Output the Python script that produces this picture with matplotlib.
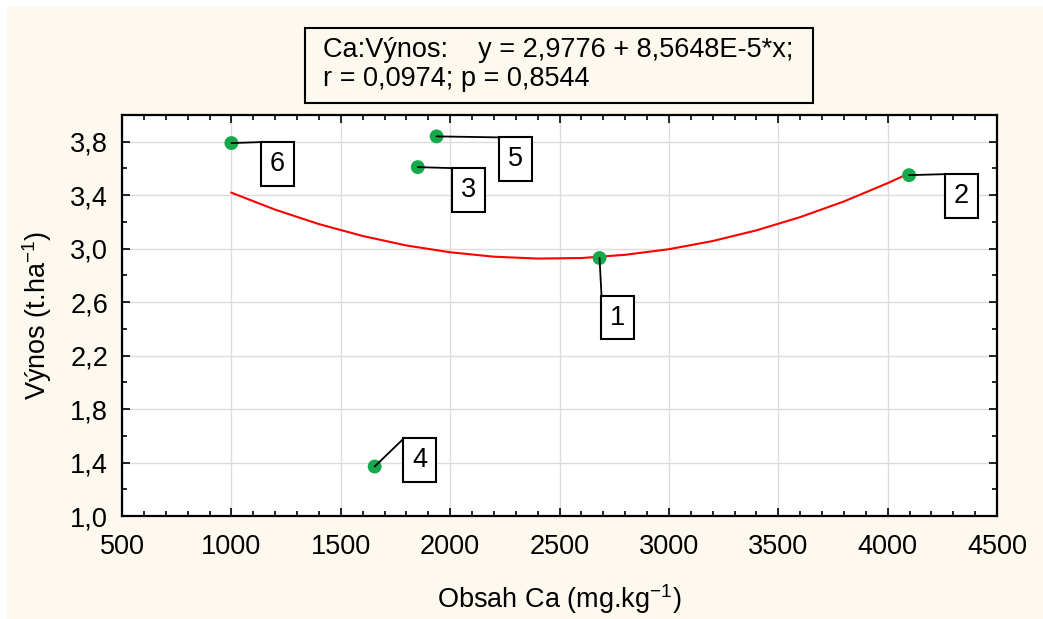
import matplotlib
matplotlib.use("Agg")
import matplotlib.pyplot as plt
from matplotlib.ticker import MultipleLocator, FuncFormatter
from matplotlib.patches import Rectangle

plt.rcParams['font.family'] = ['Liberation Sans', 'DejaVu Sans']
plt.rcParams['mathtext.fontset'] = 'custom'
plt.rcParams['mathtext.rm'] = 'Liberation Sans'
plt.rcParams['mathtext.it'] = 'Liberation Sans'

# data points
labels = ["1", "2", "3", "4", "5", "6"]
ca = [2683, 4098, 1852, 1655, 1938, 1000]
yield_t = [2.93, 3.55, 3.61, 1.37, 3.84, 3.79]

# fitted curve
curve_x = [1000, 1200, 1400, 1600, 1800, 2000, 2200, 2400, 2600, 2800, 3000, 3200, 3400, 3600, 3800, 4000, 4100]
curve_y = [3.419, 3.292, 3.184, 3.095, 3.024, 2.973, 2.940, 2.926, 2.930, 2.954, 2.996, 3.057, 3.137, 3.236, 3.353, 3.490, 3.565]

x_ticks = [500, 1000, 1500, 2000, 2500, 3000, 3500, 4000, 4500]
y_ticks = [1.0, 1.4, 1.8, 2.2, 2.6, 3.0, 3.4, 3.8]

# label box top-left corner relative to its point (pixels, right / down)
label_offsets = {"1": (2, 38), "2": (36, -1), "3": (35, 1), "4": (29, -28), "5": (63, 1), "6": (30, -1)}

W, H = 1043, 619
PT = 0.72  # points per pixel at dpi 100
FS = 19.5
fig = plt.figure(figsize=(W / 100, H / 100), dpi=100, facecolor='white')
cream = '#FDF9EF'
fig.patches.append(Rectangle((7 / W, 0), 1, (H - 7) / H, transform=fig.transFigure,
                             facecolor=cream, edgecolor='none', zorder=-10))

ax = fig.add_axes([122 / W, (H - 516) / H, (997 - 122) / W, (516 - 115) / H])
ax.set_facecolor('white')
ax.set_xlim(500, 4500)
ax.set_ylim(1.0, 4.0)
ax.set_xticks(x_ticks)
ax.set_yticks(y_ticks)
ax.xaxis.set_minor_locator(MultipleLocator(100))
ax.yaxis.set_minor_locator(MultipleLocator(0.2))
ax.yaxis.set_major_formatter(FuncFormatter(lambda v, p: f"{v:.1f}".replace('.', ',')))
ax.grid(True, which='major', color='#DCDCDC', linewidth=1.0)
ax.set_axisbelow(True)
ax.tick_params(which='both', direction='in', top=True, right=True, labelsize=FS, width=1.2, colors='black')
ax.tick_params(which='major', length=6)
ax.tick_params(axis='x', which='major', pad=13)
ax.tick_params(axis='y', which='major', pad=10)
ax.tick_params(which='minor', length=3.5)
for s in ax.spines.values():
    s.set_linewidth(1.6)
    s.set_color('black')

ax.plot(curve_x, curve_y, color='#FF0000', linewidth=1.5, zorder=3, solid_joinstyle='round')
ax.scatter(ca, yield_t, s=100, color='#16A94B', zorder=4, edgecolors='none')

for lab, x, y in zip(labels, ca, yield_t):
    dx, dy = label_offsets[lab]
    # connector line from the point to the box corner
    ax.annotate('', xy=(x, y), xycoords='data',
                xytext=(dx * PT, -dy * PT), textcoords='offset points',
                arrowprops=dict(arrowstyle='-', color='black', linewidth=1.3,
                                shrinkA=0, shrinkB=0), zorder=5)
    # label box
    ax.annotate(lab, xy=(x, y), xycoords='data',
                xytext=((dx + 16) * PT, -(dy + 21.5) * PT), textcoords='offset points',
                ha='center', va='center', fontsize=FS, zorder=6,
                bbox=dict(boxstyle='square,pad=0.33', facecolor='white', edgecolor='black', linewidth=1.5))

ax.set_xlabel('Obsah Ca (mg.kg$^{-1}$)', fontsize=FS, labelpad=16)
ax.set_ylabel('Výnos (t.ha$^{-1}$)', fontsize=FS, labelpad=12)

# equation box
fig.patches.append(Rectangle((305 / W, (H - 103) / H), (813 - 305) / W, (103 - 28) / H,
                             transform=fig.transFigure, facecolor=cream, edgecolor='black',
                             linewidth=1.5, zorder=5))
fig.text(323 / W, (H - 57) / H, 'Ca:Výnos:    y = 2,9776 + 8,5648E-5*x;', fontsize=FS,
         ha='left', va='baseline', zorder=6)
fig.text(323 / W, (H - 86) / H, 'r = 0,0974; p = 0,8544', fontsize=FS,
         ha='left', va='baseline', zorder=6)

fig.savefig('out.png', dpi=100, facecolor='white')
